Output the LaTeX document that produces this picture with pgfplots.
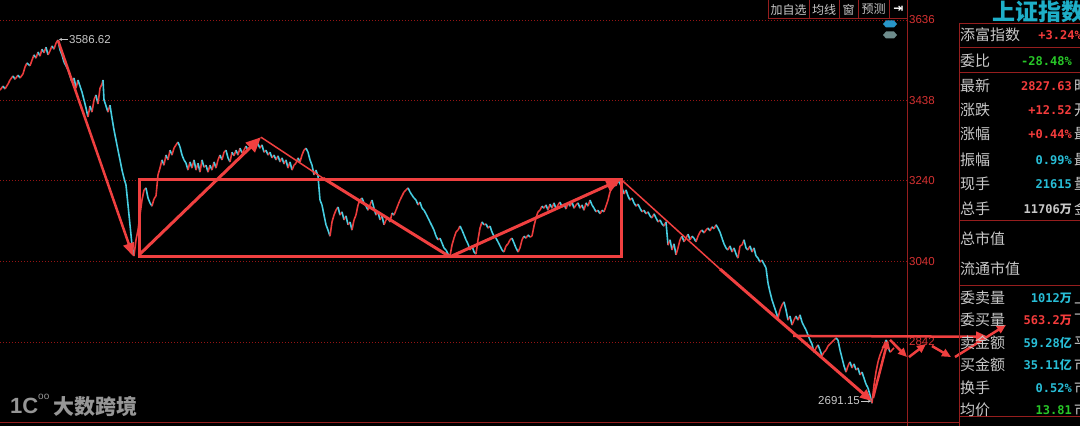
\documentclass[border=0pt]{standalone}
\usepackage{pgfplots}
\pgfplotsset{compat=1.18}
\usepackage{pgfplotstable}
\usepackage{fontspec}
\setmainfont{Liberation Sans}
\newfontfamily\cjk{Noto Sans CJK SC}
\newfontfamily\mono{DejaVu Sans Mono}
\newfontfamily\dv{DejaVu Sans}
\usetikzlibrary{arrows.meta}
\definecolor{gridc}{RGB}{150,20,20}
\definecolor{frame}{RGB}{150,30,30}
\definecolor{tickc}{RGB}{215,50,50}
\definecolor{anno}{RGB}{240,64,64}
\definecolor{lab}{RGB}{200,200,200}
\definecolor{vred}{RGB}{245,60,60}
\definecolor{vgreen}{RGB}{40,200,40}
\definecolor{vcyan}{RGB}{40,190,215}
\definecolor{titlec}{RGB}{30,175,200}
\definecolor{wm}{RGB}{150,150,150}

\pgfplotstableread{
x v
0 3463
3 3473
5 3466
8 3478
10 3488
13 3498
15 3490
18 3500
20 3493
23 3503
25 3520
27 3530
30 3523
32 3537
34 3550
36 3542
38 3557
40 3547
42 3564
44 3555
46 3569
48 3550
50 3560
52 3572
54 3564
56 3579
58 3586.62
60 3562
62 3550
64 3532
66 3523
68 3513
70 3498
72 3483
74 3493
76 3468
78 3488
80 3473
82 3458
84 3439
86 3419
88 3397
90 3424
92 3409
94 3439
96 3451
98 3429
100 3468
102 3478
103 3488
104 3439
106 3424
108 3409
110 3426
112 3394
114 3365
116 3340
118 3315
120 3291
122 3266
124 3246
126 3229
128 3180
130 3131
132 3081
134 3054
136 3094
138 3118
140 3155
142 3192
144 3217
146 3222
148 3197
150 3185
152 3177
154 3195
156 3202
158 3254
160 3271
162 3291
164 3278
166 3303
168 3291
170 3315
172 3303
174 3320
176 3328
178 3335
180 3323
182 3303
184 3291
186 3283
188 3266
190 3286
192 3271
194 3291
196 3266
198 3283
200 3261
202 3291
204 3273
206 3278
208 3261
210 3278
212 3266
214 3286
216 3271
218 3291
220 3303
222 3291
224 3310
226 3315
228 3296
230 3286
232 3310
234 3301
236 3315
238 3303
240 3320
242 3308
244 3315
246 3325
248 3315
250 3320
252 3330
254 3323
256 3335
258 3330
260 3320
262 3328
264 3310
266 3315
268 3303
270 3310
272 3296
274 3303
276 3291
278 3301
280 3286
282 3296
284 3281
286 3291
288 3271
290 3286
292 3266
294 3278
296 3283
298 3296
300 3286
302 3303
304 3315
306 3320
308 3310
310 3291
312 3278
314 3254
316 3266
318 3251
320 3192
322 3180
324 3155
326 3131
328 3118
330 3103
332 3138
334 3155
336 3167
338 3175
340 3155
342 3163
344 3143
346 3153
348 3131
350 3138
352 3118
354 3143
356 3155
358 3180
360 3192
362 3197
364 3185
366 3177
368 3167
370 3180
372 3192
374 3172
376 3155
378 3163
380 3143
382 3153
384 3131
386 3143
388 3148
390 3138
392 3160
394 3155
396 3167
398 3180
400 3192
402 3202
404 3212
406 3217
408 3222
410 3212
412 3204
414 3197
416 3192
418 3180
420 3187
422 3172
424 3167
426 3158
428 3148
430 3138
432 3128
434 3118
436 3103
438 3094
440 3098
442 3086
444 3074
446 3069
448 3059
450 3054
452 3081
454 3098
456 3113
458 3118
460 3128
462 3118
464 3106
466 3094
468 3084
470 3069
472 3079
474 3064
476 3059
478 3094
480 3123
482 3138
484 3131
486 3133
488 3123
490 3128
492 3113
494 3103
496 3098
498 3089
500 3079
502 3069
504 3064
506 3079
508 3084
510 3094
512 3098
514 3086
516 3074
518 3064
520 3074
522 3094
524 3103
526 3098
528 3106
530 3101
532 3103
534 3128
536 3148
538 3163
540 3167
542 3177
544 3172
546 3180
548 3167
550 3182
552 3172
554 3185
556 3170
558 3180
560 3187
562 3175
564 3182
566 3170
568 3185
570 3177
572 3187
574 3172
576 3180
578 3185
580 3172
582 3180
584 3167
586 3185
588 3177
590 3192
592 3180
594 3172
596 3163
598 3167
600 3158
602 3167
604 3163
606 3177
608 3192
610 3212
612 3222
614 3232
616 3227
618 3241
620 3232
622 3222
624 3207
626 3217
628 3202
630 3192
632 3197
634 3185
636 3177
638 3182
640 3172
642 3163
644 3167
646 3158
648 3163
650 3153
652 3148
654 3158
656 3148
658 3138
660 3143
662 3133
664 3128
666 3138
668 3081
670 3094
672 3069
674 3084
676 3057
678 3074
680 3094
682 3103
684 3089
686 3098
688 3108
690 3094
692 3103
694 3098
696 3089
698 3103
700 3113
702 3118
704 3111
706 3118
708 3123
710 3116
712 3126
714 3121
716 3131
718 3123
720 3113
722 3098
724 3084
726 3074
728 3069
730 3079
732 3064
734 3074
736 3059
738 3049
740 3079
742 3081
744 3094
746 3074
748 3069
750 3079
752 3064
754 3074
756 3054
758 3049
760 3039
762 3044
764 3034
766 3025
768 2987
770 2965
772 2946
774 2931
776 2916
778 2901
780 2921
782 2933
784 2941
786 2921
788 2896
790 2906
792 2884
794 2896
796 2906
798 2896
800 2909
802 2891
804 2881
806 2872
808 2859
810 2847
812 2837
814 2817
816 2827
818 2835
820 2822
822 2808
824 2817
826 2822
828 2832
830 2837
832 2842
834 2847
836 2852
838 2847
840 2822
842 2803
844 2783
846 2768
848 2783
850 2793
852 2778
854 2788
856 2773
858 2778
860 2761
862 2768
864 2753
866 2738
868 2729
870 2711
872 2691.15
874 2736
876 2768
878 2793
880 2810
882 2822
884 2835
886 2847
888 2832
890 2817
892 2822
894 2827.63
}\price
\pgfplotstablecreatecol[create col/expr={\nextrow{v}-\thisrow{v}}]{d}{\price}

\newcommand{\lbl}[2]{\node[anchor=west,text=lab,font=\cjk\fontsize{15}{15}\selectfont,inner sep=0pt] at (960pt,#1pt) {#2};}
\newcommand{\val}[4][1072]{\node[anchor=east,text=#3,font=\mono\bfseries\fontsize{12}{12}\selectfont,inner sep=0pt] at (#1pt,#2pt) {#4};}
\newcommand{\trail}[2]{\node[anchor=west,text=lab,font=\cjk\fontsize{15}{15}\selectfont,inner sep=0pt] at (1074pt,#1pt) {#2};}

\begin{document}
\begin{tikzpicture}
\useasboundingbox (0,0) rectangle (1080pt,426pt);
\clip (0,0) rectangle (1080pt,426pt);
\fill[black] (0,0) rectangle (1080pt,426pt);
\begin{axis}[
  at={(0,0)}, anchor=south west, scale only axis,
  width=907pt, height=426pt,
  xmin=0, xmax=907, ymin=2634.9, ymax=3685.3,
  axis x line=none, axis y line=right,
  y axis line style={-, draw=frame, line width=1pt},
  every outer y axis line/.append style={-},
  ytick={2842,3040,3240,3438,3636},
  major tick length=0pt,
  ymajorgrids,
  grid style={draw=gridc, line width=0.8pt, dash pattern=on 1pt off 2pt},
  yticklabel style={text=tickc, font=\fontsize{11.5}{12}\selectfont, anchor=west, inner sep=1pt, xshift=1pt,
    /pgf/number format/1000 sep={}, /pgf/number format/assume math mode=true},
  clip=false,
  colormap={updown}{rgb255=(70,205,225) rgb255=(235,60,60)},
  point meta min=-0.5, point meta max=0.5,
]
\addplot[mesh, shader=flat corner, line width=1.6pt, point meta=explicit] table[x=x, y=v, meta=d] {\price};

% trend annotations
\draw[anno, line width=2.5pt, -{Triangle[length=13pt,width=11pt]}] (axis cs:58,3586) -- (axis cs:133,3054);
\draw[anno, line width=3pt] (axis cs:139.5,3054) rectangle (axis cs:621,3243);
\draw[anno, line width=3pt, -{Triangle[length=15pt,width=13pt]}] (axis cs:140,3059) -- (axis cs:261,3347);
\draw[anno, line width=1.5pt] (axis cs:261,3347) -- (axis cs:323,3246);
\draw[anno, line width=3pt] (axis cs:323,3246) -- (axis cs:450,3052);
\draw[anno, line width=3pt, -{Triangle[length=15pt,width=13pt]}] (axis cs:450,3052) -- (axis cs:621,3243);
\draw[anno, line width=1.5pt] (axis cs:621,3243) -- (axis cs:720,3022);
\draw[anno, line width=3pt, -{Triangle[length=12pt,width=10pt]}] (axis cs:720,3022) -- (axis cs:872,2696);
\draw[anno, line width=2.5pt, -{Triangle[length=12pt,width=10pt]}] (axis cs:793,2857) -- (axis cs:988,2855);
\draw[anno, line width=2.5pt, -{Triangle[length=9pt,width=8pt]}] (axis cs:873,2704) -- (axis cs:888,2847);
\draw[anno, line width=2.5pt, -{Triangle[length=9pt,width=8pt]}] (axis cs:890,2847) -- (axis cs:907,2805);
\draw[anno, line width=2.5pt, -{Triangle[length=9pt,width=8pt]}] (axis cs:909,2805) -- (axis cs:926,2837);
\draw[anno, line width=2.5pt, -{Triangle[length=9pt,width=8pt]}] (axis cs:932,2832) -- (axis cs:951,2805);
\draw[anno, line width=2.5pt, -{Triangle[length=9pt,width=8pt]}] (axis cs:955,2805) -- (axis cs:1006,2884);

% extreme labels
\draw[lab, line width=0.8pt, -{Stealth[length=3pt,width=3pt]}] (axis cs:68,3588) -- (axis cs:59,3588);
\node[anchor=west, text=lab, font=\fontsize{11.5}{12}\selectfont, inner sep=1pt] at (axis cs:68,3588) {3586.62};
\draw[lab, line width=0.8pt, -{Stealth[length=3pt,width=3pt]}] (axis cs:861,2696) -- (axis cs:871,2696);
\node[anchor=east, text=lab, font=\fontsize{11.5}{12}\selectfont, inner sep=1pt] at (axis cs:861,2698) {2691.15};
\end{axis}

% frame lines
\draw[frame, line width=1pt] (0pt,3pt) -- (959pt,3pt);
\draw[frame, line width=1pt] (959pt,0pt) -- (959pt,402pt);
\foreach \yy in {402,378,353,205,140,9} {\draw[frame, line width=1pt] (959pt,\yy pt) -- (1080pt,\yy pt);}

% toolbar
\draw[frame, line width=1pt] (768pt,426pt) -- (768pt,407pt) -- (908pt,407pt);
\foreach \xx in {809,839,858,889} {\draw[frame, line width=1pt] (\xx pt,426pt) -- (\xx pt,407pt);}
\node[text=lab, font=\cjk\fontsize{12}{12}\selectfont, inner sep=0pt] at (788.5pt,416.5pt) {加自选};
\node[text=lab, font=\cjk\fontsize{12}{12}\selectfont, inner sep=0pt] at (824pt,416.5pt) {均线};
\node[text=lab, font=\cjk\fontsize{12}{12}\selectfont, inner sep=0pt] at (848.5pt,416.5pt) {窗};
\node[text=lab, font=\cjk\fontsize{12}{12}\selectfont, inner sep=0pt] at (873.5pt,416.5pt) {预测};
\node[text=white, font=\dv\bfseries\fontsize{12}{12}\selectfont, inner sep=0pt] at (898.5pt,416.5pt) {⇥};
\fill[color={rgb,255:red,40;green,150;blue,200}] (883pt,402pt) -- (886pt,405.5pt) -- (894pt,405.5pt) -- (897pt,402pt) -- (894pt,398.5pt) -- (886pt,398.5pt) -- cycle;
\fill[color={rgb,255:red,110;green,140;blue,140}] (883pt,391pt) -- (886pt,394.5pt) -- (894pt,394.5pt) -- (897pt,391pt) -- (894pt,387.5pt) -- (886pt,387.5pt) -- cycle;

% right panel
\node[anchor=west, text=titlec, font=\cjk\bfseries\fontsize{23}{23}\selectfont, inner sep=0pt] at (992pt,414pt) {上证指数};
\lbl{391}{添富指数} \val[1082]{391}{vred}{+3.24\%}
\lbl{365}{委比} \val{365}{vgreen}{-28.48\%}
\lbl{340}{最新} \val{340}{vred}{2827.63} \trail{340}{昨}
\lbl{316}{涨跌} \val{316}{vred}{+12.52} \trail{316}{开}
\lbl{292}{涨幅} \val{292}{vred}{+0.44\%} \trail{292}{最}
\lbl{266}{振幅} \val{266}{vcyan}{0.99\%} \trail{266}{最}
\lbl{242}{现手} \val{242}{vcyan}{21615} \trail{242}{量}
\lbl{217}{总手} \val{217}{lab}{11706{\cjk 万}} \trail{217}{金}
\lbl{187}{总市值}
\lbl{157}{流通市值}
\lbl{128}{委卖量} \val{128}{vcyan}{1012{\cjk 万}} \trail{128}{上}
\lbl{106}{委买量} \val{106}{vred}{563.2{\cjk 万}} \trail{106}{下}
\lbl{83}{卖金额} \val{83}{vcyan}{59.28{\cjk 亿}} \trail{83}{平}
\lbl{61}{买金额} \val{61}{vcyan}{35.11{\cjk 亿}} \trail{61}{市}
\lbl{38}{换手} \val{38}{vcyan}{0.52\%} \trail{38}{市}
\lbl{16}{均价} \val{16}{vgreen}{13.81} \trail{16}{市}

% watermark
\node[anchor=west, text=wm, font=\bfseries\fontsize{22}{22}\selectfont, inner sep=0pt] at (10pt,20pt) {1C};
\node[anchor=west, text=wm, font=\fontsize{10}{10}\selectfont, inner sep=0pt] at (38pt,29pt) {oo};
\node[anchor=west, text=wm, font=\cjk\bfseries\fontsize{21}{21}\selectfont, inner sep=0pt] at (53pt,20pt) {大数跨境};
\end{tikzpicture}
\end{document}
